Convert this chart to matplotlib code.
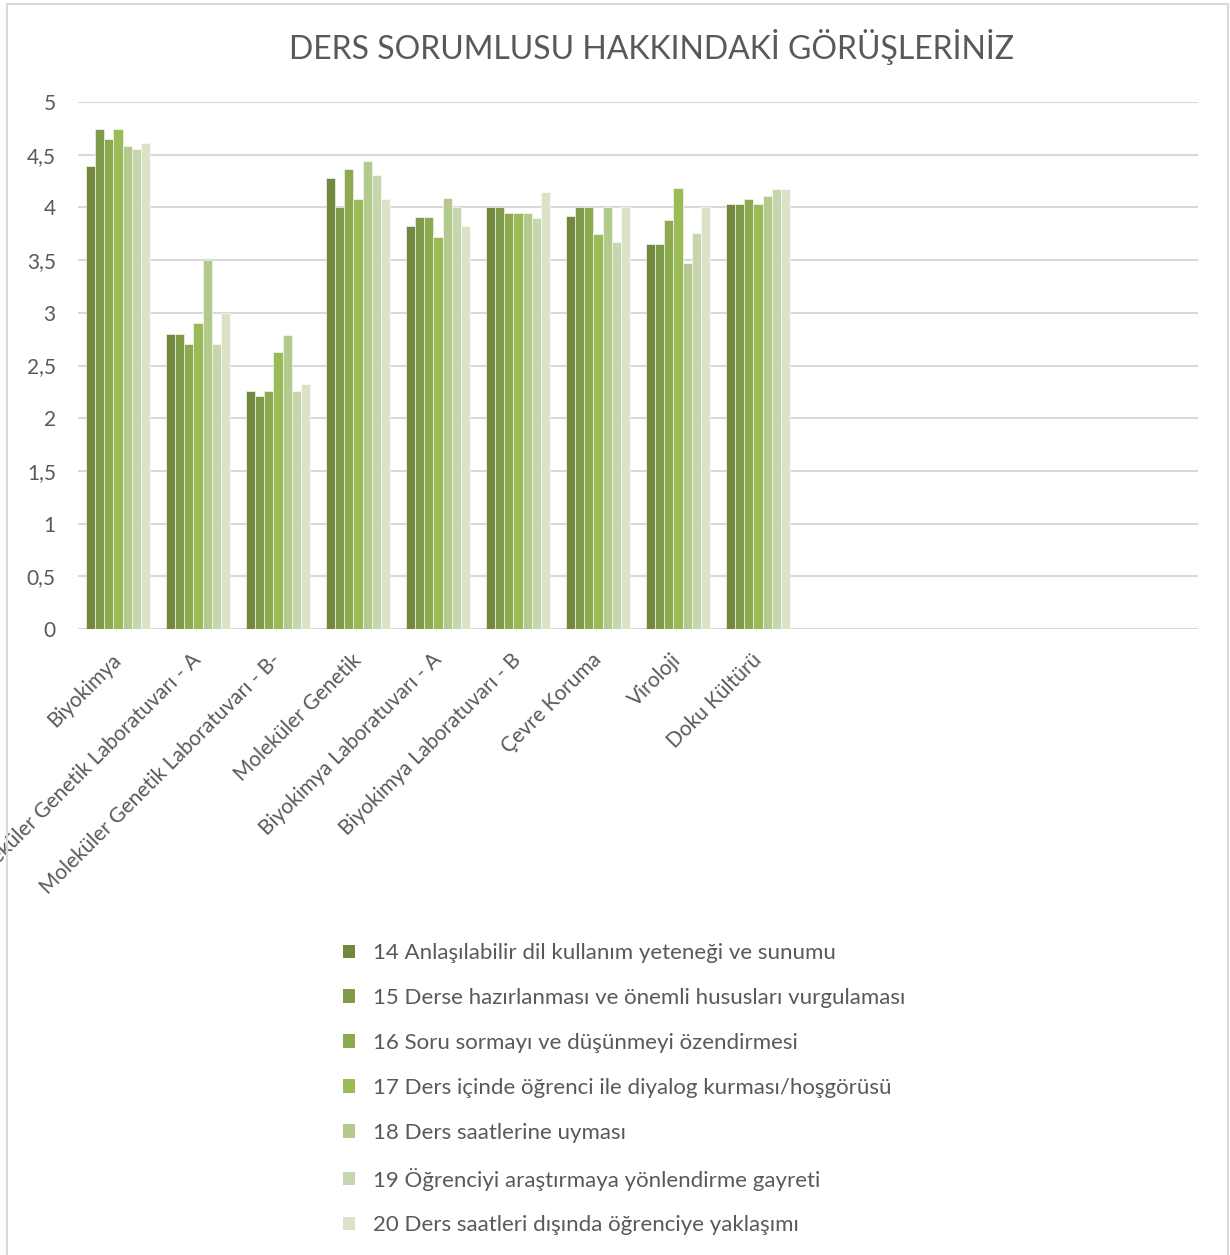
import numpy as np
import matplotlib.pyplot as plt
import matplotlib.transforms as mtransforms
from matplotlib.patches import Patch, Rectangle

plt.rcParams['font.family'] = ['Lato', 'DejaVu Sans']

categories = ["Biyokimya", "Moleküler Genetik Laboratuvarı - A",
              "Moleküler Genetik Laboratuvarı - B-", "Moleküler Genetik",
              "Biyokimya Laboratuvarı - A", "Biyokimya Laboratuvarı - B",
              "Çevre Koruma", "Viroloji", "Doku Kültürü"]
n_slots = 14  # the axis has room for 14 categories, only 9 are filled

series_names = [
    "14 Anlaşılabilir dil kullanım yeteneği ve sunumu",
    "15 Derse hazırlanması ve önemli hususları vurgulaması",
    "16 Soru sormayı ve düşünmeyi özendirmesi",
    "17 Ders içinde öğrenci ile diyalog kurması/hoşgörüsü",
    "18 Ders saatlerine uyması",
    "19 Öğrenciyi araştırmaya yönlendirme gayreti",
    "20 Ders saatleri dışında öğrenciye yaklaşımı",
]

s14 = [4.39, 2.80, 2.26, 4.28, 3.82, 4.00, 3.92, 3.65, 4.03]
s15 = [4.74, 2.80, 2.21, 4.00, 3.91, 4.00, 4.00, 3.65, 4.03]
s16 = [4.65, 2.70, 2.26, 4.36, 3.91, 3.95, 4.00, 3.88, 4.08]
s17 = [4.74, 2.90, 2.63, 4.08, 3.72, 3.95, 3.75, 4.18, 4.03]
s18 = [4.58, 3.50, 2.79, 4.44, 4.09, 3.95, 4.00, 3.47, 4.11]
s19 = [4.55, 2.70, 2.26, 4.31, 4.00, 3.90, 3.67, 3.76, 4.17]
s20 = [4.61, 3.00, 2.32, 4.08, 3.82, 4.15, 4.00, 4.00, 4.17]
series = [s14, s15, s16, s17, s18, s19, s20]

colors = ["#71883e", "#7f9a48", "#8daa51", "#9bbb59", "#b3c98d", "#c8d6ad", "#dae3c8"]

W, H = 1230, 1255
fig = plt.figure(figsize=(W / 100, H / 100), dpi=100)
ax = fig.add_axes([78 / W, 1 - 629 / H, (1198 - 78) / W, (629 - 102) / H])

# chart border
fig.patches.append(Rectangle((7 / W, -0.01), (1228 - 7) / W, 1.01 - 4 / H,
                             transform=fig.transFigure, fill=False,
                             edgecolor="#d9d9d9", linewidth=1.5))

x = np.arange(len(categories))
group = 0.81
bw = group / len(series)
for i, (vals, c) in enumerate(zip(series, colors)):
    ax.bar(x - group / 2 + bw * (i + 0.5), vals, width=bw, color=c,
           edgecolor="white", linewidth=0.4, zorder=3)

ax.set_xlim(-0.5, n_slots - 0.5)
ax.set_ylim(0, 5)
ax.set_yticks(np.arange(0, 5.01, 0.5))
ax.set_yticklabels([("%g" % v).replace(".", ",") for v in np.arange(0, 5.01, 0.5)])
ax.yaxis.grid(True, color="#d9d9d9", linewidth=1.5, zorder=0)
for sp in ax.spines.values():
    sp.set_visible(False)
ax.tick_params(axis="both", length=0, labelcolor="#595959")
ax.tick_params(axis="y", pad=16, labelsize=15)
ax.set_xticks(x)
ax.set_xticklabels(categories, rotation=45, ha="right", va="top",
                   rotation_mode="anchor", fontsize=15)
ax.tick_params(axis="x", pad=10)
shift = mtransforms.ScaledTranslation(-0.07, -0.07, fig.dpi_scale_trans)
for lab in ax.get_xticklabels():
    lab.set_transform(lab.get_transform() + shift)

fig.text(652 / W, 1 - 47 / H, "DERS SORUMLUSU HAKKINDAKİ GÖRÜŞLERİNİZ",
         ha="center", va="center", fontsize=23, color="#595959")

handles = [Patch(facecolor=c, edgecolor="none") for c in colors]
leg = fig.legend(handles, series_names, loc="upper left",
                 bbox_to_anchor=(332 / W, 1 - 932 / H), frameon=False,
                 borderpad=0, fontsize=16, labelspacing=1.12,
                 handlelength=0.55, handleheight=0.55, handletextpad=0.8)
for t in leg.get_texts():
    t.set_color("#595959")

fig.savefig("out.png", dpi=100)
